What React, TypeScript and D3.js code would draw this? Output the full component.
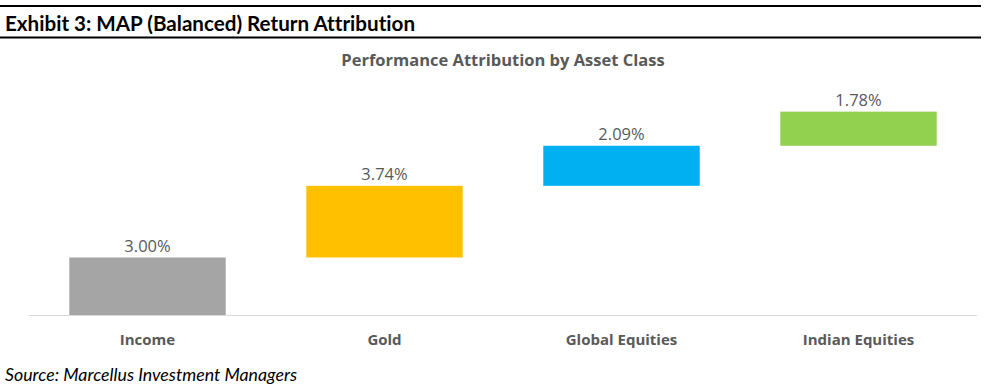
import * as d3 from "d3";

const categories = ["Income", "Gold", "Global Equities", "Indian Equities"];
const values = [3.0, 3.74, 2.09, 1.78];
const barColors = ["#A5A5A5", "#FFC000", "#00B0F0", "#92D050"];
const yDomain = [0, 12];

const headerTitle = "Exhibit 3: MAP (Balanced) Return Attribution";
const chartTitle = "Performance Attribution by Asset Class";
const sourceNote = "Source: Marcellus Investment Managers";

const width = 985;
const height = 385;
const plot = { left: 29, right: 977, top: 85, bottom: 315 };

export default function App() {
  // waterfall: each bar starts where the previous one ended
  const ends = Array.from(d3.cumsum(values));
  const bars = categories.map((c, i) => ({
    category: c,
    value: values[i],
    start: ends[i] - values[i],
    end: ends[i],
    color: barColors[i],
  }));

  const xScale = d3
    .scaleBand()
    .domain(categories)
    .range([plot.left, plot.right])
    .paddingInner(0.34)
    .paddingOuter(0.17);

  const yScale = d3
    .scaleLinear()
    .domain(yDomain)
    .range([plot.bottom, plot.top]);

  const chartFont = "'Open Sans', sans-serif";
  const textGrey = "#595959";
  const noLigatures = { fontVariantLigatures: "none" as const };

  return (
    <svg
      width={width}
      height={height}
      viewBox={`0 0 ${width} ${height}`}
      style={{ position: "absolute", left: 0, top: 0, background: "#fff" }}
    >
      {/* header block */}
      <line x1={0} x2={981} y1={6} y2={6} stroke="#000" strokeWidth={1.8} />
      <line x1={0} x2={981} y1={37.5} y2={37.5} stroke="#000" strokeWidth={1.8} />
      <text
        x={5}
        y={31}
        fontFamily="Lato, sans-serif"
        fontWeight="bold"
        fontSize={20}
        textLength={410}
        lengthAdjust="spacingAndGlyphs"
        fill="#000"
        style={noLigatures}
      >
        {headerTitle}
      </text>

      {/* chart title */}
      <text
        x={503}
        y={66}
        textAnchor="middle"
        fontFamily={chartFont}
        fontWeight="bold"
        fontSize={16.5}
        fill={textGrey}
      >
        {chartTitle}
      </text>

      {/* bars */}
      {bars.map((d) => (
        <g key={d.category}>
          <rect
            x={xScale(d.category)}
            y={yScale(d.end)}
            width={xScale.bandwidth()}
            height={yScale(d.start) - yScale(d.end)}
            fill={d.color}
          />
          <text
            x={(xScale(d.category) || 0) + xScale.bandwidth() / 2}
            y={yScale(d.end) - 5.5}
            textAnchor="middle"
            fontFamily={chartFont}
            fontSize={16.5}
            fill={textGrey}
          >
            {d.value.toFixed(2)}%
          </text>
        </g>
      ))}

      {/* category axis */}
      <line
        x1={plot.left}
        x2={plot.right}
        y1={plot.bottom + 0.5}
        y2={plot.bottom + 0.5}
        stroke="#D9D9D9"
        strokeWidth={1}
      />
      {categories.map((c) => (
        <text
          key={`label-${c}`}
          x={(xScale(c) || 0) + xScale.bandwidth() / 2}
          y={345}
          textAnchor="middle"
          fontFamily={chartFont}
          fontWeight="bold"
          fontSize={15}
          fill={textGrey}
        >
          {c}
        </text>
      ))}

      {/* source */}
      <text
        x={5}
        y={381}
        fontFamily="Lato, sans-serif"
        fontStyle="italic"
        fontSize={17}
        textLength={292}
        lengthAdjust="spacingAndGlyphs"
        fill="#000"
      >
        {sourceNote}
      </text>
    </svg>
  );
}
